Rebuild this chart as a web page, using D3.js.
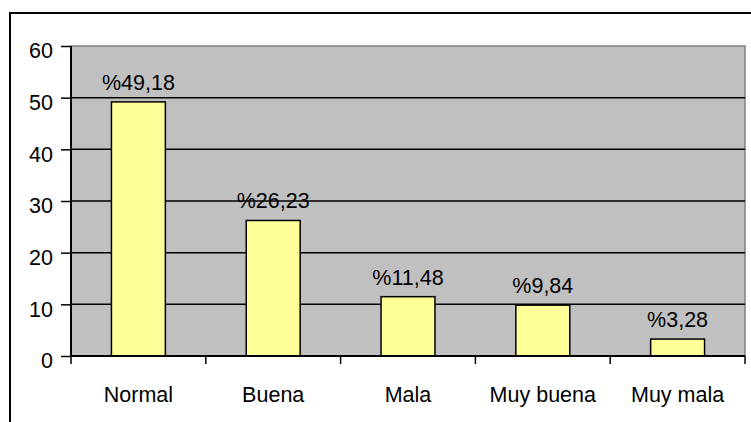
<!DOCTYPE html>
<html>
<head>
<meta charset="utf-8">
<script src="https://cdn.jsdelivr.net/npm/d3@7"></script>
<style>
  body { margin: 0; background: #fff; }
  svg { display: block; }
  text { font-family: "Liberation Sans", Arial, sans-serif; fill: #000; }
</style>
</head>
<body>
<svg id="chart" width="751" height="422"></svg>
<script>
// data
var categories = ['Normal', 'Buena', 'Mala', 'Muy buena', 'Muy mala'];
var values = [49.18, 26.23, 11.48, 9.84, 3.28];
var labels = ['%49,18', '%26,23', '%11,48', '%9,84', '%3,28'];
var yTicks = [0, 10, 20, 30, 40, 50, 60];

var svg = d3.select('#chart');
var plot = { left: 71, top: 46, right: 745, bottom: 356 };
var fontSize = '21.5px';

// outer chart frame (runs past right and bottom of the picture)
svg.append('rect')
  .attr('x', 10).attr('y', 13)
  .attr('width', 760).attr('height', 430)
  .attr('fill', '#fff')
  .attr('stroke', '#000').attr('stroke-width', 2);

var x = d3.scaleBand()
  .domain(categories)
  .range([plot.left, plot.right])
  .paddingInner(0.6)
  .paddingOuter(0.3);

var xOuter = d3.scaleBand()
  .domain(categories)
  .range([plot.left, plot.right]);

var y = d3.scaleLinear()
  .domain([0, 60])
  .range([plot.bottom, plot.top]);

// plot area
svg.append('rect')
  .attr('x', plot.left).attr('y', plot.top)
  .attr('width', plot.right - plot.left).attr('height', plot.bottom - plot.top)
  .attr('fill', '#c0c0c0')
  .attr('stroke', '#808080').attr('stroke-width', 1.5);

// gridlines
svg.append('g')
  .selectAll('line')
  .data(yTicks.filter(function (d) { return d > 0 && d < 60; }))
  .enter().append('line')
  .attr('x1', plot.left).attr('x2', plot.right)
  .attr('y1', function (d) { return y(d); })
  .attr('y2', function (d) { return y(d); })
  .attr('stroke', '#000').attr('stroke-width', 1.5);

// bars
svg.append('g')
  .selectAll('rect')
  .data(values)
  .enter().append('rect')
  .attr('x', function (d, i) { return x(categories[i]); })
  .attr('y', function (d) { return y(d); })
  .attr('width', x.bandwidth())
  .attr('height', function (d) { return y(0) - y(d); })
  .attr('fill', '#ffff99')
  .attr('stroke', '#000').attr('stroke-width', 1.5);

// value labels
svg.append('g')
  .selectAll('text')
  .data(values)
  .enter().append('text')
  .attr('x', function (d, i) { return x(categories[i]) + x.bandwidth() / 2; })
  .attr('y', function (d) { return y(d) - 12; })
  .attr('text-anchor', 'middle')
  .style('font-size', fontSize)
  .text(function (d, i) { return labels[i]; });

// y axis
var yAxis = d3.axisLeft(y).tickValues(yTicks).tickSize(10).tickPadding(8);
var gy = svg.append('g')
  .attr('transform', 'translate(' + plot.left + ',0)')
  .call(yAxis);
gy.select('.domain').attr('stroke', '#000').attr('stroke-width', 2)
  .attr('d', 'M0,' + (plot.top) + 'V' + plot.bottom);
gy.selectAll('.tick line').attr('stroke', '#000').attr('stroke-width', 1.5);
gy.selectAll('.tick text').style('font-size', fontSize).attr('font-family', null)
  .attr('dy', '0.55em');

// x axis with ticks between categories
var xAxis = d3.axisBottom(x).tickSize(0).tickPadding(31);
var gx = svg.append('g')
  .attr('transform', 'translate(0,' + plot.bottom + ')')
  .call(xAxis);
gx.select('.domain').attr('stroke', '#000').attr('stroke-width', 2)
  .attr('d', 'M' + plot.left + ',0H' + plot.right);
gx.selectAll('.tick text').style('font-size', fontSize).attr('font-family', null);

var bounds = categories.map(function (c) { return xOuter(c); }).concat([plot.right]);
gx.selectAll('.sep')
  .data(bounds)
  .enter().append('line')
  .attr('class', 'sep')
  .attr('x1', function (d) { return d; }).attr('x2', function (d) { return d; })
  .attr('y1', 0).attr('y2', 8)
  .attr('stroke', '#000').attr('stroke-width', 1.5);
</script>
</body>
</html>
